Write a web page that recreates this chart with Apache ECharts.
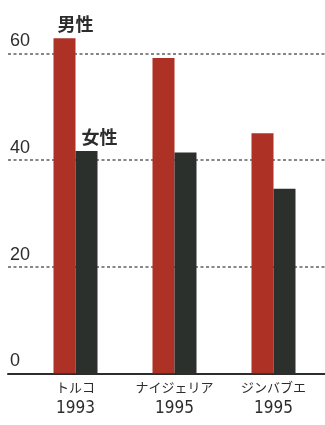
<!DOCTYPE html>
<html>
<head>
<meta charset="utf-8">
<script src="https://cdn.jsdelivr.net/npm/echarts@6/dist/echarts.min.js"></script>
<style>
  html, body { margin: 0; padding: 0; background: #ffffff; }
  #chart { width: 325px; height: 425px; }
</style>
</head>
<body>
<div id="chart"></div>
<script>
// Countries and survey years
var countries = ['トルコ', 'ナイジェリア', 'ジンバブエ'];
var years = ['1993', '1995', '1995'];
// Values per sex
var maleValues = [62.8, 59.1, 45.0];
var femaleValues = [41.7, 41.4, 34.6];
var seriesNames = ['男性', '女性'];
// Value axis ticks
var yTicks = [0, 20, 40, 60];

var RED = '#ad3124';
var DARK = '#2b302c';
var INK = '#2c2c2c';

var chart = echarts.init(document.getElementById('chart'));

var grids = [
  { left: 8, right: 0, top: 53.3, bottom: 51.7 },   // grid lines & baseline
  { left: 26, right: 2, top: 53.3, bottom: 51.7 }   // bars
];

function seriesLabel(offsetX) {
  return {
    show: true,
    position: 'top',
    distance: 5,
    offset: [offsetX, 0],
    formatter: '{a}',
    fontFamily: '"Noto Sans CJK JP", sans-serif',
    fontSize: 18,
    fontWeight: 'bold',
    color: INK
  };
}

function firstLabelled(values, offsetX) {
  return values.map(function (v, i) {
    return i === 0 ? { value: v, label: seriesLabel(offsetX) } : v;
  });
}

var option = {
  backgroundColor: '#ffffff',
  animation: false,
  grid: grids,
  xAxis: [
    {
      type: 'category', gridIndex: 0, data: countries,
      axisLine: { show: true, lineStyle: { color: INK, width: 2 } },
      axisTick: { show: false }, axisLabel: { show: false }, splitLine: { show: false }
    },
    {
      type: 'category', gridIndex: 1,
      data: countries.map(function (c, i) { return c + '\n' + years[i]; }),
      axisLine: { show: false }, axisTick: { show: false },
      axisLabel: {
        interval: 0,
        hideOverlap: false,
        margin: 7,
        formatter: function (v) {
          var p = v.split('\n');
          return '{c|' + p[0] + '}\n{y|' + p[1] + '}';
        },
        rich: {
          c: { fontFamily: '"Noto Sans CJK JP", sans-serif', fontSize: 13, color: INK, lineHeight: 18, padding: [0, 0, 4, 0] },
          y: { fontFamily: '"Liberation Sans Narrow", "DejaVu Sans Condensed", sans-serif', fontSize: 17, color: INK, lineHeight: 20 }
        }
      }
    }
  ],
  yAxis: [
    {
      type: 'value', gridIndex: 0, min: yTicks[0], max: yTicks[yTicks.length - 1], interval: 20,
      axisLine: { show: false }, axisTick: { show: false },
      axisLabel: {
        inside: true, margin: 2, verticalAlign: 'bottom', padding: [0, 0, 3, 0],
        fontFamily: '"Liberation Sans", Arial, sans-serif', fontSize: 18, color: INK
      },
      splitLine: { show: true, lineStyle: { color: '#5e5e5e', width: 1.5, type: [3, 2.5] } }
    },
    {
      type: 'value', gridIndex: 1, min: yTicks[0], max: yTicks[yTicks.length - 1],
      show: false, splitLine: { show: false }
    }
  ],
  series: [
    {
      name: seriesNames[0], type: 'bar', xAxisIndex: 1, yAxisIndex: 1,
      data: firstLabelled(maleValues, 11),
      barWidth: 22, barGap: '0%', clip: false, z: 3,
      itemStyle: { color: RED }
    },
    {
      name: seriesNames[1], type: 'bar', xAxisIndex: 1, yAxisIndex: 1,
      data: firstLabelled(femaleValues, 13),
      barWidth: 22, barGap: '0%', clip: false, z: 3,
      itemStyle: { color: DARK }
    }
  ]
};

chart.setOption(option);
</script>
</body>
</html>
